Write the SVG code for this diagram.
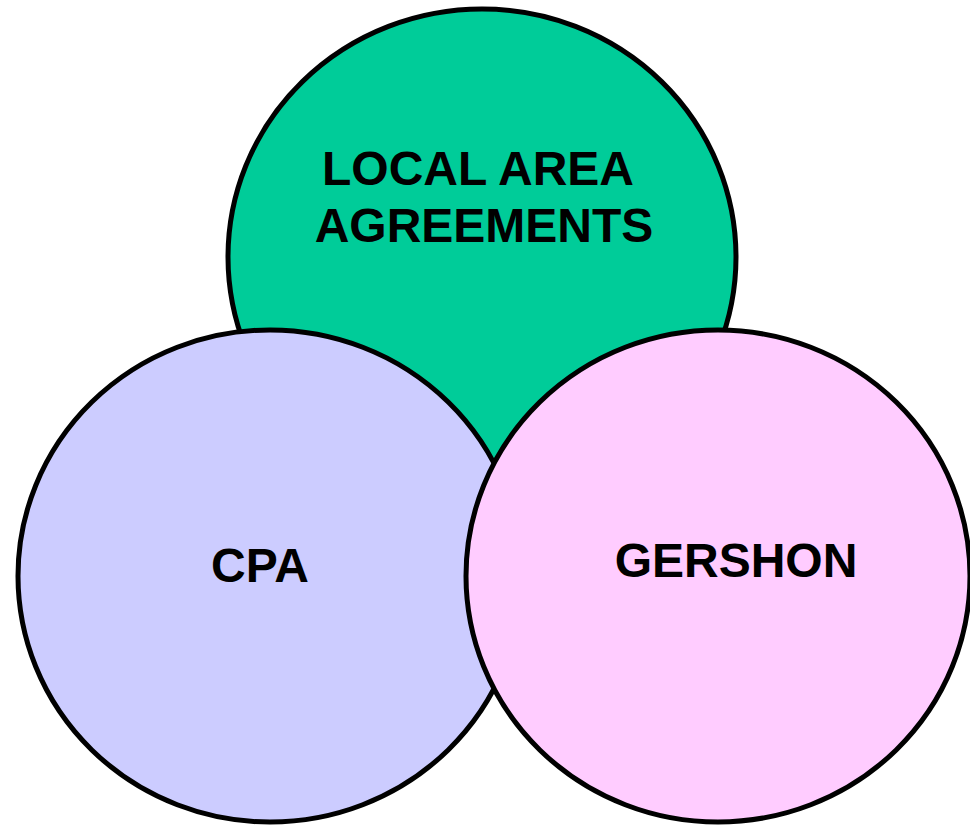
<svg xmlns="http://www.w3.org/2000/svg" width="970" height="826" viewBox="0 0 970 826">
<style>
.c{stroke:#000;stroke-width:5}
.t{font-family:"Liberation Sans",Arial,sans-serif;font-weight:bold;font-size:48px;fill:#000;text-anchor:middle}
</style>
<rect width="970" height="826" fill="#fff"/>
<g id="laa">
<ellipse class="c" cx="482" cy="257" rx="254" ry="248" fill="#00CC99"/>
<text class="t" x="478" y="185">LOCAL AREA</text>
<text class="t" x="484" y="242">AGREEMENTS</text>
</g>
<g id="cpa">
<ellipse class="c" cx="270" cy="576" rx="252" ry="246" fill="#CCCCFF"/>
<text class="t" x="260" y="582">CPA</text>
</g>
<g id="gershon">
<ellipse class="c" cx="718" cy="576" rx="252" ry="246" fill="#FFCCFF"/>
<text class="t" x="736" y="577">GERSHON</text>
</g>
<g id="connectors"/>
</svg>
